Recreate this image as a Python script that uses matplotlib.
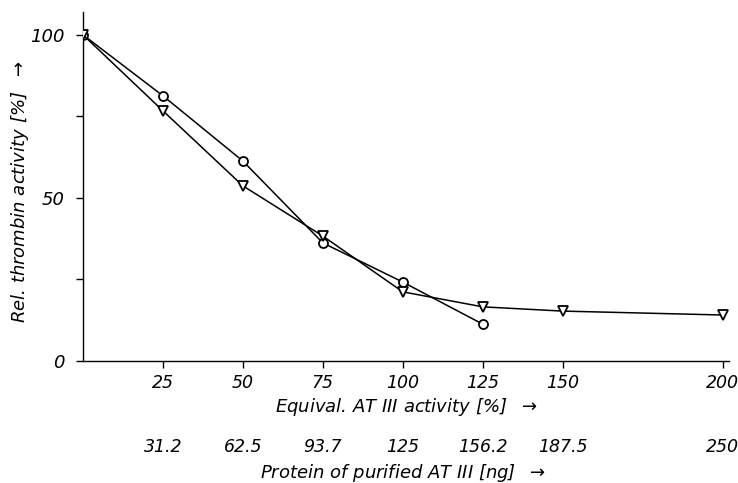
import matplotlib
matplotlib.use('Agg')
import matplotlib.pyplot as plt
from matplotlib.transforms import blended_transform_factory

plt.rcParams['font.family'] = ['DejaVu Sans']

# ---- data ----
equiv_activity = [0, 25, 50, 75, 100, 125, 150, 200]
protein_labels = ['31.2', '62.5', '93.7', '125', '156.2', '187.5', '250']

circle_x = [0, 25, 50, 75, 100, 125]
circle_y = [100, 81.3, 61.3, 36.2, 24.2, 11.3]

tri_x = [0, 25, 50, 75, 100, 125, 150, 200]
tri_y = [100, 76.7, 53.7, 38.3, 21.2, 16.6, 15.3, 14.1]

W, H = 738, 483
fig = plt.figure(figsize=(W / 100, H / 100), dpi=100)
ax = fig.add_axes([83 / W, 1 - 361 / H, (729 - 83) / W, (361 - 12) / H])

ax.plot(circle_x, circle_y, color='black', lw=1.1, marker='o', ms=6.5,
        mfc='white', mec='black', mew=1.3, zorder=3)
ax.plot(tri_x, tri_y, color='black', lw=1.1, marker='v', ms=6.5,
        mfc='white', mec='black', mew=1.3, zorder=3)

ax.set_xlim(0, 202)
ax.set_ylim(0, 107)

for sp in ['top', 'right']:
    ax.spines[sp].set_visible(False)
for sp in ['left', 'bottom']:
    ax.spines[sp].set_linewidth(1.0)

ax.set_xticks(equiv_activity[1:])
ax.set_xticklabels([str(v) for v in equiv_activity[1:]])
ax.set_yticks([0, 25, 50, 75, 100])
ax.set_yticklabels(['0', '', '50', '', '100'])
ax.tick_params(axis='x', direction='out', length=5, width=1.0,
               labelsize=12.5, pad=4)
ax.tick_params(axis='y', direction='out', length=5, width=1.0,
               labelsize=13, pad=8)
for lab in ax.get_xticklabels() + ax.get_yticklabels():
    lab.set_fontstyle('italic')

ax.set_xlabel('Equival. AT III activity [%]  $\\rightarrow$', fontsize=13,
              fontstyle='italic', labelpad=3)
fig.text(20 / W, 1 - 192 / H, 'Rel. thrombin activity [%]  $\\rightarrow$',
         rotation=90, ha='center', va='center', fontsize=13,
         fontstyle='italic')

# second row of x labels (protein amount)
trans = blended_transform_factory(ax.transData, fig.transFigure)
for xv, lab in zip(equiv_activity[1:], protein_labels):
    ax.text(xv, 1 - 447 / H, lab, transform=trans, ha='center', va='center',
            fontsize=12.5, fontstyle='italic')
fig.text(403 / W, 1 - 473 / H,
         'Protein of purified AT III [ng]  $\\rightarrow$', ha='center',
         va='center', fontsize=13, fontstyle='italic')

fig.savefig('out.png', dpi=100)
